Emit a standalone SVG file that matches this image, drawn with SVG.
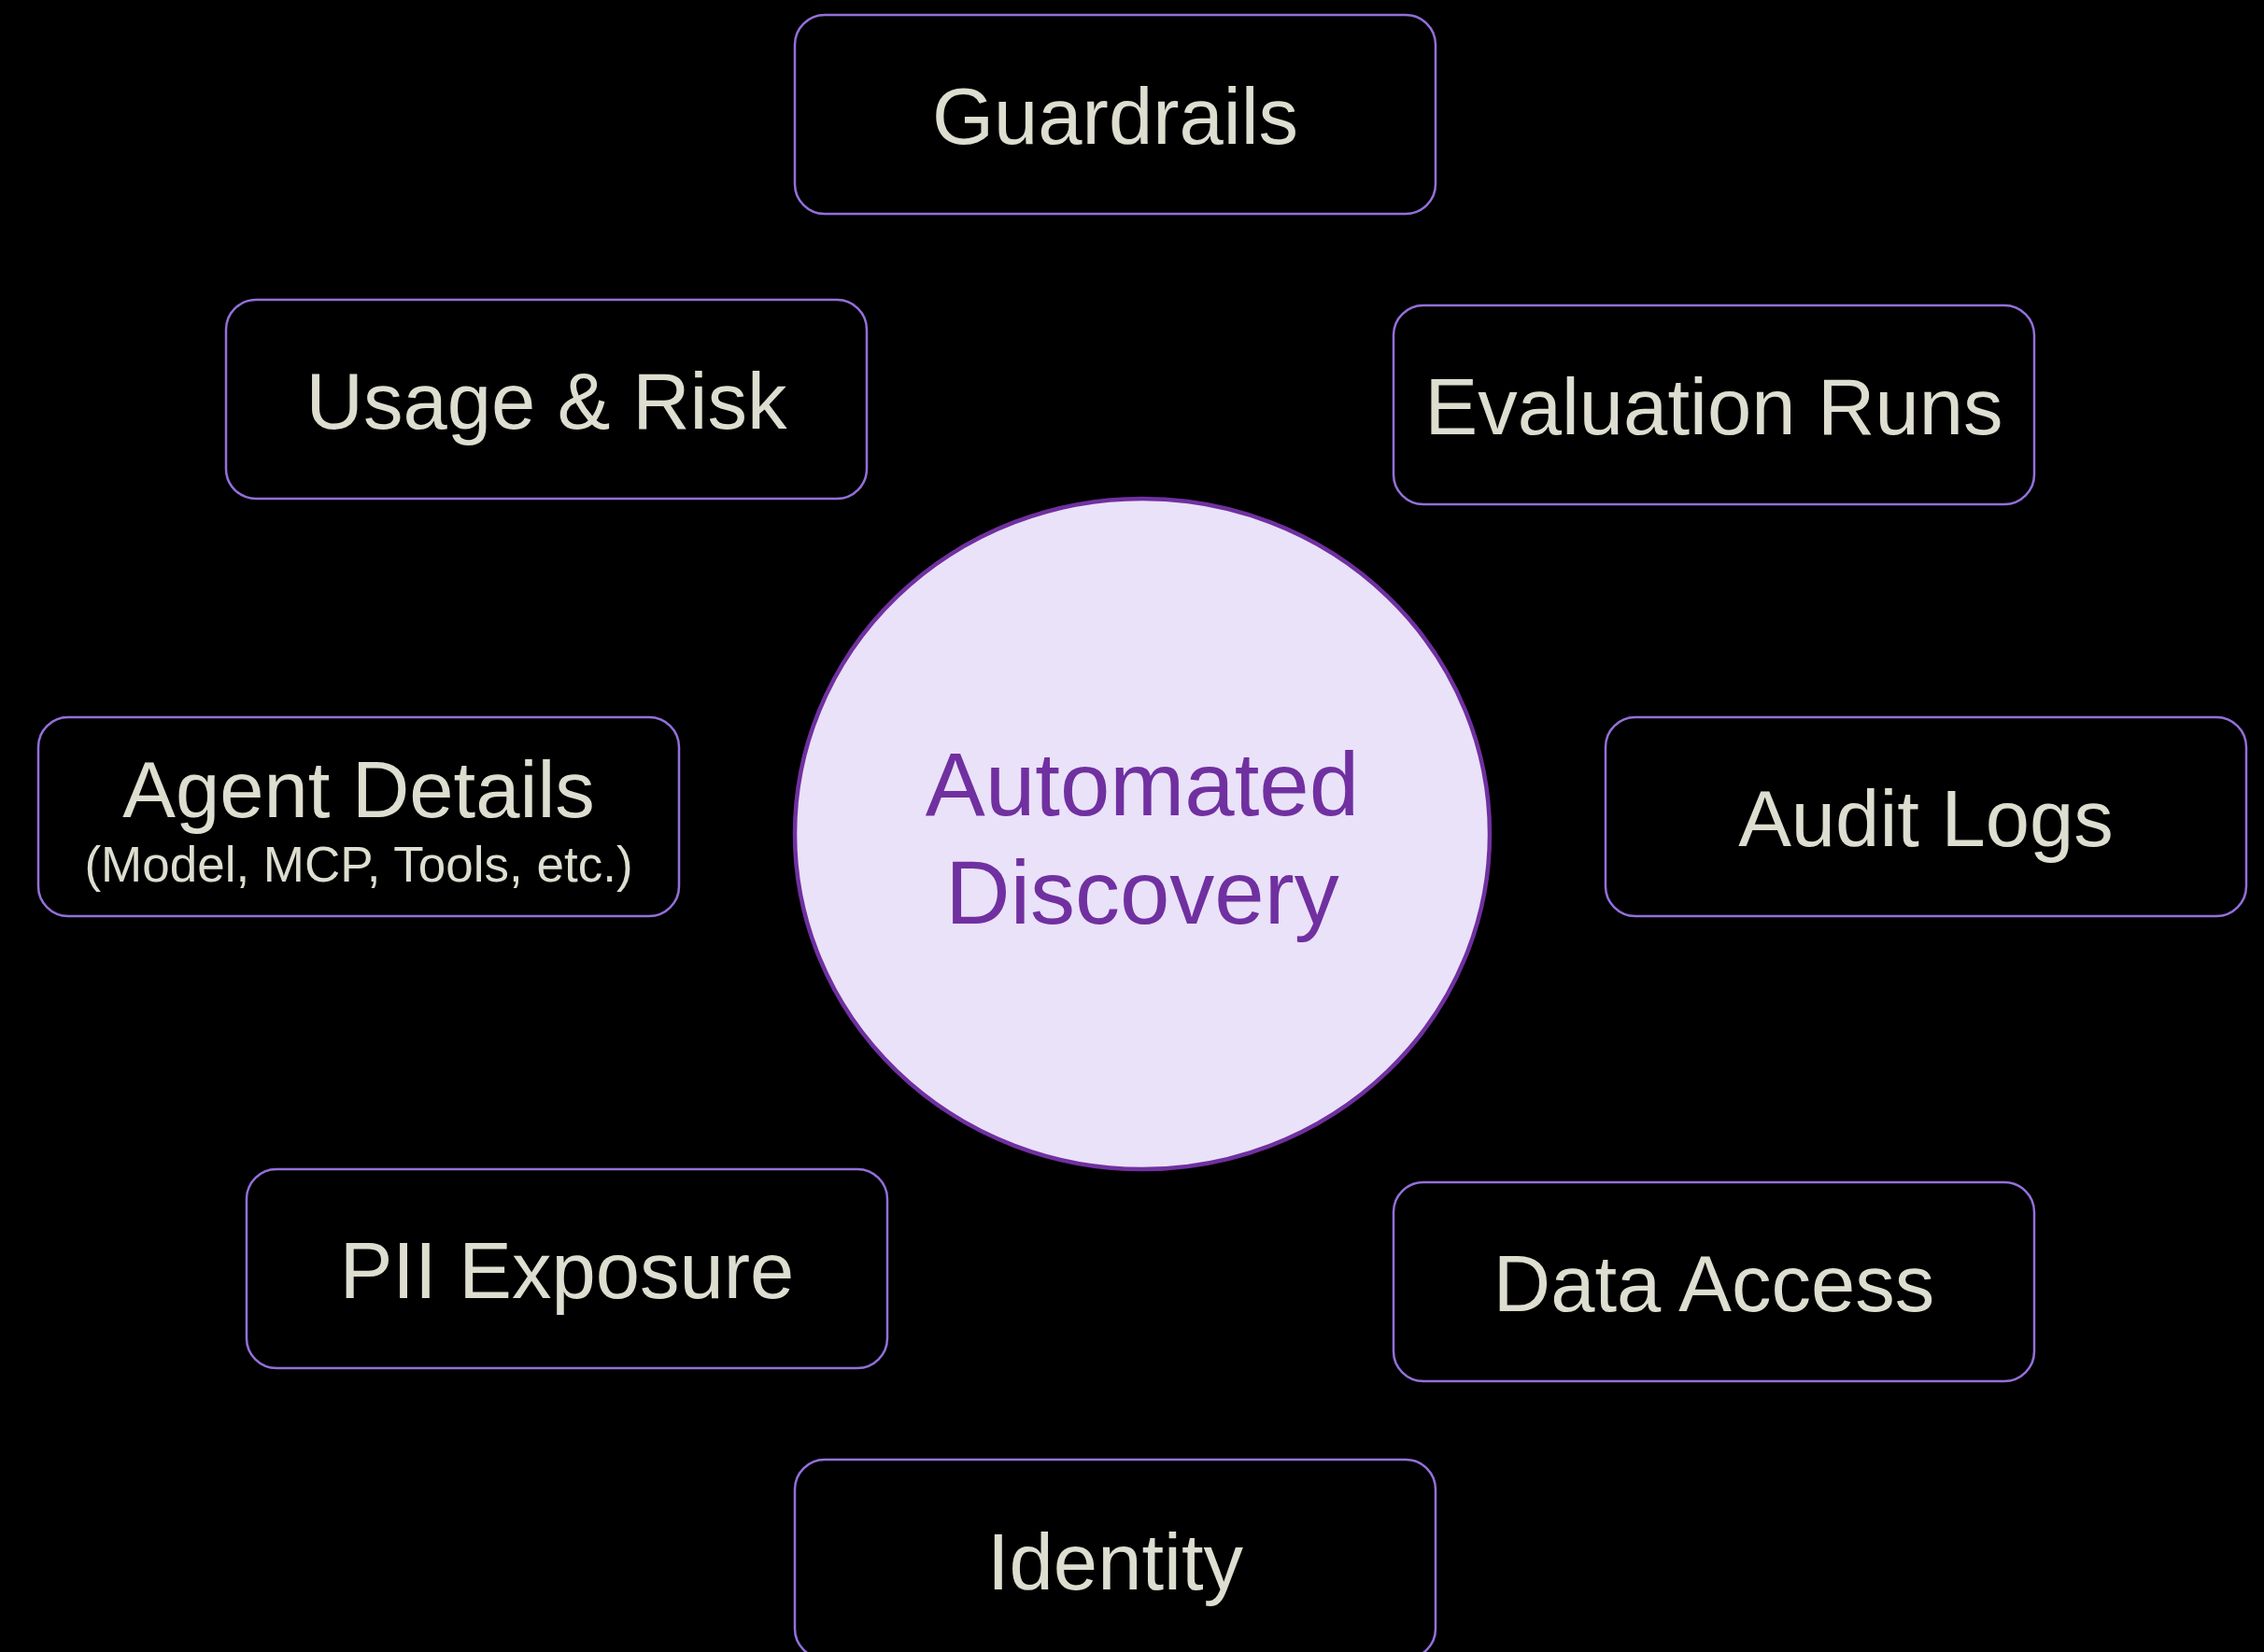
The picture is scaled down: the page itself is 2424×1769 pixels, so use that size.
<svg xmlns="http://www.w3.org/2000/svg" width="2424" height="1769" viewBox="0 0 2424 1769">
  <style>
    .box { fill: #000000; stroke: #9370DB; stroke-width: 2.5; }
    .label { font-family: "Liberation Sans", Arial, sans-serif; font-size: 85px; fill: #DDDDD0; text-anchor: middle; }
    .sub { font-size: 53px; }
    .hub { fill: #EAE2F8; stroke: #7030A0; stroke-width: 4.5; }
    .hub-label { font-family: "Liberation Sans", Arial, sans-serif; font-size: 96px; fill: #7030A0; text-anchor: middle; }
  </style>
  <rect width="2424" height="1769" fill="#000000"/>

  <!-- no connecting lines between the hub and its satellites -->
  <g id="connectors"></g>

  <g id="hub">
    <ellipse class="hub" cx="1223" cy="893" rx="372" ry="359"/>
    <text class="hub-label" x="1223" y="873">Automated</text>
    <text class="hub-label" x="1223" y="989">Discovery</text>
  </g>

  <g id="guardrails">
    <rect class="box" x="851" y="16" width="686" height="213" rx="32"/>
    <text class="label" x="1194" y="154">Guardrails</text>
  </g>

  <g id="usage-risk">
    <rect class="box" x="242" y="321" width="686" height="213" rx="32"/>
    <text class="label" x="585" y="459">Usage &amp; Risk</text>
  </g>

  <g id="evaluation-runs">
    <rect class="box" x="1492" y="327" width="686" height="213" rx="32"/>
    <text class="label" x="1835" y="465">Evaluation Runs</text>
  </g>

  <g id="agent-details">
    <rect class="box" x="41" y="768" width="686" height="213" rx="32"/>
    <text class="label" x="384" y="875">Agent Details</text>
    <text class="label sub" x="384" y="944">(Model, MCP, Tools, etc.)</text>
  </g>

  <g id="audit-logs">
    <rect class="box" x="1719" y="768" width="686" height="213" rx="32"/>
    <text class="label" x="2062" y="906">Audit Logs</text>
  </g>

  <g id="pii-exposure">
    <rect class="box" x="264" y="1252" width="686" height="213" rx="32"/>
    <text class="label" x="607" y="1390">PII Exposure</text>
  </g>

  <g id="data-access">
    <rect class="box" x="1492" y="1266" width="686" height="213" rx="32"/>
    <text class="label" x="1835" y="1404">Data Access</text>
  </g>

  <g id="identity">
    <rect class="box" x="851" y="1563" width="686" height="213" rx="32"/>
    <text class="label" x="1194" y="1702">Identity</text>
  </g>
</svg>
